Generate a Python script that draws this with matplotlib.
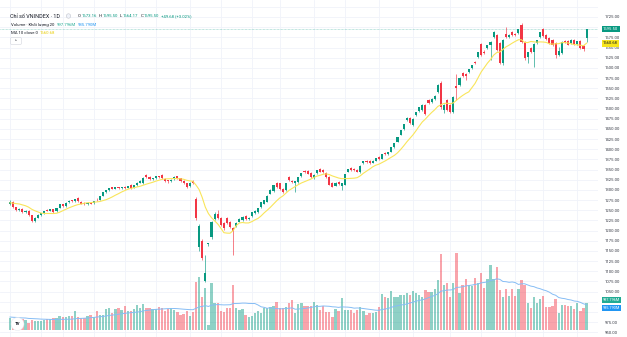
import numpy as np
import pandas as pd
import matplotlib
matplotlib.use("Agg")
import matplotlib.pyplot as plt
from matplotlib.transforms import blended_transform_factory
from matplotlib.patches import FancyBboxPatch, Circle

plt.rcParams['font.family'] = ['Roboto', 'DejaVu Sans']

W, H = 627, 337
UP = "#089981"
DOWN = "#f23645"
GRID = "#f0f3fa"
DARK = "#131722"

# daily candles, 2 Jan 2025 .. 6 Oct 2025
opens = [1266, 1270, 1257, 1250, 1253, 1246, 1249, 1237, 1224, 1232, 1238, 1242, 1251, 1249, 1252, 1247, 1256, 1264, 1260, 1269,
         1274, 1272, 1279, 1270, 1267, 1264, 1268, 1267, 1276, 1275, 1285, 1294, 1299, 1306, 1303, 1307, 1304, 1307, 1305, 1312,
         1305, 1311, 1318, 1317, 1337, 1332, 1326, 1328, 1333, 1336, 1327, 1323, 1321, 1326, 1333, 1328, 1322, 1316, 1309, 1321,
         1278, 1160, 1174, 1076, 1167, 1184, 1228, 1241, 1231, 1219, 1230, 1221, 1206, 1211, 1222, 1225, 1235, 1229, 1236, 1243,
         1246, 1258, 1266, 1271, 1291, 1296, 1317, 1316, 1302, 1300, 1331, 1322, 1316, 1319, 1333, 1347, 1346, 1341, 1328, 1341,
         1351, 1349, 1341, 1331, 1318, 1310, 1319, 1309, 1313, 1344, 1354, 1352, 1350, 1344, 1365, 1371, 1372, 1367, 1371, 1381,
         1377, 1391, 1387, 1393, 1405, 1418, 1435, 1449, 1471, 1476, 1460, 1484, 1494, 1496, 1508, 1521, 1516, 1523, 1541, 1563,
         1496, 1521, 1508, 1491, 1555, 1558, 1587, 1585, 1589, 1600, 1614, 1627, 1659, 1640, 1649, 1656, 1676, 1681, 1661, 1612,
         1683, 1676, 1688, 1684, 1686, 1705, 1664, 1627, 1649, 1639, 1661, 1676, 1695, 1681, 1673, 1668, 1661, 1632, 1636, 1666,
         1666, 1660, 1668, 1659, 1666, 1654, 1673.16]
highs = [1275, 1272, 1259, 1256, 1255, 1251, 1250, 1239, 1234, 1240, 1244, 1249, 1253, 1254, 1254, 1256, 1265, 1266, 1269, 1274,
         1276, 1278, 1282, 1272, 1269, 1269, 1269, 1273, 1280, 1285, 1295, 1300, 1305, 1308, 1307, 1308, 1308, 1309, 1310, 1314,
         1312, 1319, 1323, 1331, 1339, 1334, 1330, 1334, 1335, 1338, 1329, 1325, 1326, 1334, 1335, 1330, 1324, 1318, 1319, 1323,
         1283, 1215, 1178, 1140, 1170, 1223, 1245, 1250, 1234, 1222, 1233, 1224, 1208, 1221, 1231, 1235, 1237, 1234, 1246, 1250,
         1256, 1271, 1276, 1287, 1302, 1313, 1320, 1318, 1304, 1318, 1334, 1324, 1322, 1332, 1342, 1350, 1348, 1343, 1338, 1350,
         1353, 1351, 1343, 1333, 1320, 1319, 1321, 1318, 1340, 1352, 1356, 1354, 1352, 1360, 1372, 1373, 1374, 1373, 1379, 1383,
         1389, 1393, 1393, 1406, 1416, 1431, 1448, 1463, 1478, 1479, 1476, 1492, 1504, 1510, 1511, 1524, 1526, 1532, 1560, 1568,
         1510, 1524, 1511, 1530, 1585, 1577, 1590, 1588, 1598, 1608, 1616, 1640, 1662, 1643, 1657, 1666, 1690, 1684, 1664, 1670,
         1700, 1683, 1691, 1686, 1696, 1711, 1666, 1640, 1651, 1660, 1669, 1689, 1698, 1683, 1675, 1670, 1663, 1651, 1666, 1669,
         1669, 1670, 1670, 1667, 1668, 1656, 1695.50]
lows = [1263, 1255, 1248, 1247, 1244, 1243, 1236, 1220, 1222, 1230, 1236, 1240, 1247, 1247, 1244, 1245, 1255, 1257, 1258, 1267,
        1270, 1271, 1270, 1264, 1262, 1263, 1264, 1265, 1272, 1274, 1284, 1293, 1298, 1301, 1302, 1302, 1303, 1303, 1304, 1303,
        1304, 1310, 1316, 1315, 1329, 1324, 1324, 1327, 1329, 1326, 1320, 1318, 1319, 1325, 1327, 1320, 1315, 1305, 1307, 1315,
        1227, 1150, 1128, 1073, 1163, 1180, 1226, 1229, 1212, 1202, 1217, 1206, 1140, 1209, 1220, 1223, 1227, 1227, 1234, 1241,
        1244, 1256, 1264, 1269, 1289, 1294, 1305, 1300, 1293, 1298, 1322, 1317, 1295, 1317, 1332, 1341, 1338, 1329, 1326, 1340,
        1343, 1341, 1330, 1311, 1306, 1309, 1313, 1300, 1311, 1343, 1347, 1346, 1343, 1342, 1364, 1366, 1364, 1365, 1370, 1374,
        1376, 1386, 1385, 1392, 1404, 1417, 1434, 1448, 1469, 1462, 1458, 1482, 1492, 1494, 1484, 1511, 1514, 1521, 1539, 1500,
        1490, 1494, 1489, 1489, 1522, 1556, 1578, 1570, 1587, 1598, 1609, 1625, 1630, 1635, 1647, 1620, 1674, 1642, 1610, 1608,
        1674, 1674, 1679, 1679, 1684, 1662, 1619, 1612, 1637, 1602, 1659, 1674, 1676, 1669, 1659, 1654, 1624, 1628, 1634, 1660,
        1655, 1658, 1657, 1657, 1646, 1642, 1664.17]
closes = [1270, 1257, 1250, 1253, 1246, 1249, 1238, 1224, 1232, 1238, 1242, 1248, 1249, 1252, 1246, 1255, 1264, 1260, 1268, 1273,
          1272, 1277, 1272, 1266, 1264, 1267, 1266, 1272, 1274, 1284, 1294, 1299, 1304, 1303, 1306, 1304, 1307, 1305, 1309, 1305,
          1311, 1318, 1321, 1330, 1331, 1326, 1329, 1333, 1331, 1328, 1322, 1321, 1325, 1332, 1329, 1322, 1317, 1308, 1317, 1317,
          1230, 1210, 1132, 1095, 1169, 1221, 1240, 1231, 1214, 1205, 1219, 1208, 1199, 1219, 1229, 1233, 1229, 1232, 1245, 1248,
          1255, 1270, 1275, 1285, 1300, 1312, 1307, 1302, 1295, 1317, 1324, 1319, 1321, 1331, 1341, 1343, 1340, 1332, 1337, 1349,
          1345, 1343, 1332, 1313, 1308, 1317, 1315, 1316, 1338, 1351, 1349, 1348, 1345, 1358, 1371, 1368, 1366, 1372, 1378, 1376,
          1388, 1388, 1392, 1405, 1415, 1430, 1447, 1462, 1476, 1464, 1474, 1491, 1503, 1508, 1486, 1513, 1524, 1530, 1558, 1504,
          1508, 1496, 1491, 1528, 1550, 1575, 1580, 1580, 1597, 1607, 1611, 1639, 1632, 1637, 1656, 1664, 1688, 1644, 1612, 1668,
          1676, 1681, 1681, 1681, 1695, 1664, 1624, 1639, 1639, 1659, 1668, 1688, 1678, 1671, 1661, 1656, 1632, 1642, 1664, 1662,
          1657, 1668, 1659, 1665, 1648.5, 1645.82, 1695.50]
# volume, million shares
volumes = [440, 330, 350, 310, 400, 370, 260, 380, 330, 350, 350, 380, 400, 420, 440, 440, 520, 480, 480, 520,
           500, 700, 480, 450, 440, 520, 560, 480, 700, 560, 540, 760, 810, 640, 780, 800, 740, 880, 700, 720,
           760, 940, 820, 950, 820, 800, 760, 780, 860, 800, 700, 780, 800, 730, 660, 560, 580, 720, 520, 680,
           1780, 1960, 1220, 1540, 190, 1750, 990, 1010, 715, 680, 800, 800, 1665, 800, 740, 765, 555, 490, 520, 615,
           715, 615, 800, 800, 860, 890, 1025, 800, 800, 860, 990, 1110, 615, 950, 1010, 890, 890, 890, 1050, 925,
           740, 890, 680, 680, 490, 765, 700, 1170, 740, 740, 740, 615, 740, 840, 715, 555, 640, 615, 680, 840,
           1330, 1230, 1170, 1455, 1230, 1230, 1290, 1300, 1360, 1300, 1450, 1380, 1300, 1230, 1480, 1420, 1420, 1500, 1850, 2810,
           1665, 1725, 1230, 1725, 2860, 1360, 1665, 1875, 1665, 1630, 1935, 1725, 2120, 1540, 1875, 2400, 1875, 2330, 1480, 1230,
           1500, 1260, 1500, 1260, 1500, 1850, 1665, 1010, 800, 1210, 1010, 1135, 1260, 860, 860, 890, 1135, 620, 925, 925,
           890, 890, 768, 1010, 720, 800, 997.796]
# last days of Dec 2024, only used to warm up the moving averages
prior_closes = [1266, 1262, 1262, 1268, 1270, 1272, 1275, 1270, 1267]
prior_volumes = [520, 450, 610, 480, 430, 560, 470, 500, 420, 530, 460, 490, 450, 520, 410, 470, 500, 380, 510]

price_ticks = list(range(950, 1726, 25))
hidden_ticks = [1000, 1025, 1700]   # sit under the value tags
# first session of each month and around mid-month
grid_days = [0, 10, 17, 27, 37, 47, 58, 68, 78, 87, 98, 108, 119, 130, 142, 152, 163, 172, 183]

n = len(closes)
idx = np.arange(n)
o = np.array(opens)
c = np.array(closes)
ma10 = pd.Series(prior_closes + closes).rolling(10).mean().to_numpy()[len(prior_closes):]
vma20 = pd.Series(prior_volumes + volumes).rolling(20).mean().to_numpy()[len(prior_volumes):]

fig = plt.figure(figsize=(W / 100, H / 100), dpi=100)
PLOT_R = 598
axv = fig.add_axes([0, 0, PLOT_R / W, 1])
axp = axv.twinx()

step = 3.1
axv.set_xlim(-10 / step, (PLOT_R - 10) / step)
px_per_pt = 0.4067
axp.set_ylim(1725 - (H - 17) / px_per_pt, 1725 + 17 / px_per_pt)
m_per_px = 37.0
axv.set_ylim(-(H - 330) * m_per_px, 330 * m_per_px)

# grid
hgrid = blended_transform_factory(axv.transAxes, axp.transData)
for t in price_ticks + [1750]:
    axv.plot([0, 1], [t, t], transform=hgrid, color=GRID, lw=0.6, zorder=0)
for d in grid_days:
    axv.axvline(d, color=GRID, lw=0.6, zorder=0)

# volume
up = c >= o
vcol = np.where(up, "#089981", "#f23645")
axv.bar(idx, volumes, width=0.74, color=vcol, alpha=0.45, lw=0, zorder=2)
axv.plot(idx, vma20, color="#86bdf5", lw=0.7, zorder=3)

# candles
ccol = np.where(up, UP, DOWN)
axp.vlines(idx, lows, highs, colors=ccol, lw=0.45, zorder=3)
body = np.maximum(np.abs(c - o), 1.8)
axp.bar(idx, body, bottom=np.minimum(o, c), width=0.66, color=ccol, lw=0, zorder=4)
axp.plot(idx, ma10, color="#f9e55a", lw=0.8, zorder=5)
axp.axhline(c[-1], color=UP, lw=0.5, ls=(0, (1, 1)), alpha=0.5, zorder=2)

for ax in (axv, axp):
    for s in ax.spines.values():
        s.set_visible(False)
    ax.set_xticks([])
axv.set_yticks([])
axp.set_yticks(price_ticks)
axp.set_yticklabels(["" if t in hidden_ticks else f"{t:.2f}" for t in price_ticks])
axp.tick_params(axis="y", length=0, pad=5, labelsize=3.0, labelcolor="#363a45")

# value tags on the price scale
tag_x = 1 + 5 / PLOT_R
ptr = blended_transform_factory(axp.transAxes, axp.transData)
axp.text(tag_x, c[-1], f"{c[-1]:.2f}", transform=ptr, ha="left", va="center", fontsize=3.0,
         color="white", clip_on=False, zorder=10,
         bbox=dict(boxstyle="square,pad=0.35", fc=UP, ec="none"))
axp.text(tag_x, ma10[-1], f"{ma10[-1]:.2f}", transform=ptr, ha="left", va="center", fontsize=3.0,
         color=DARK, clip_on=False, zorder=10,
         bbox=dict(boxstyle="square,pad=0.35", fc="#f7e51b", ec="none"))
vtr = blended_transform_factory(axv.transAxes, axv.transData)
axv.annotate(f"{volumes[-1]:.3f}M", xy=(tag_x, volumes[-1]), xycoords=vtr, xytext=(0, 1.9),
             textcoords="offset points", ha="left", va="center", fontsize=2.8, color="white",
             annotation_clip=False, zorder=10,
             bbox=dict(boxstyle="square,pad=0.25", fc="#22ab94", ec="none"))
axv.annotate(f"{vma20[-1]:.3f}M", xy=(tag_x, vma20[-1]), xycoords=vtr, xytext=(0, -2.2),
             textcoords="offset points", ha="left", va="center", fontsize=2.8, color="white",
             annotation_clip=False, zorder=10,
             bbox=dict(boxstyle="square,pad=0.25", fc="#2196f3", ec="none"))

# legend lines at the top left
renderer = fig.canvas.get_renderer()


def text_runs(x_px, y_px, runs, size):
    x = x_px
    for s, color, gap in runs:
        t = fig.text(x / W, 1 - y_px / H, s, color=color, fontsize=size, ha="left", va="center")
        x += t.get_window_extent(renderer=renderer).width + gap


chg = c[-1] - c[-2]
pct = chg / c[-2] * 100
text_runs(10, 16, [("Chỉ số VNINDEX · 1D", DARK, 0)], 3.9)
fig.add_artist(Circle((0.685, (H - 16) / 100), 0.022, transform=fig.dpi_scale_trans,
                      fc="#f0f3fa", ec="#b2b5be", lw=0.3))
text_runs(78, 16, [("O", DARK, 0.3), (f"{opens[-1]:.2f}", UP, 2.4),
                   ("H", DARK, 0.3), (f"{highs[-1]:.2f}", UP, 2.4),
                   ("L", DARK, 0.3), (f"{lows[-1]:.2f}", UP, 2.4),
                   ("C", DARK, 0.3), (f"{c[-1]:.2f}", UP, 2.4),
                   (f"{chg:+.2f} ({pct:+.2f}%)", UP, 0)], 3.1)
text_runs(11, 25, [("Volume · Khối lượng 20", DARK, 2.2),
                   (f"{volumes[-1]:.3f}M", "#22ab94", 2.2),
                   (f"{vma20[-1]:.3f}M", "#2196f3", 0)], 3.1)
text_runs(11, 33, [("MA 10 close 0", DARK, 2.2), (f"{ma10[-1]:.2f}", "#e8cc00", 0)], 3.1)

btn = FancyBboxPatch((0.11, (H - 44) / 100), 0.10, 0.06, boxstyle="round,pad=0.004,rounding_size=0.01",
                     transform=fig.dpi_scale_trans, fc="white", ec="#d1d4dc", lw=0.4)
fig.add_artist(btn)
fig.text(16 / W, 1 - 41 / H, "^", fontsize=3.0, color=DARK, ha="center", va="center")

# logo
fig.add_artist(Circle((0.175, (H - 324) / 100), 0.065, transform=fig.dpi_scale_trans,
                      fc="white", ec="#e0e3eb", lw=0.3, zorder=20))
fig.text(17.5 / W, 1 - 324 / H, "TV", fontsize=3.2, fontweight="bold", color=DARK,
         ha="center", va="center", zorder=21)

fig.savefig("out.png", dpi=100)
